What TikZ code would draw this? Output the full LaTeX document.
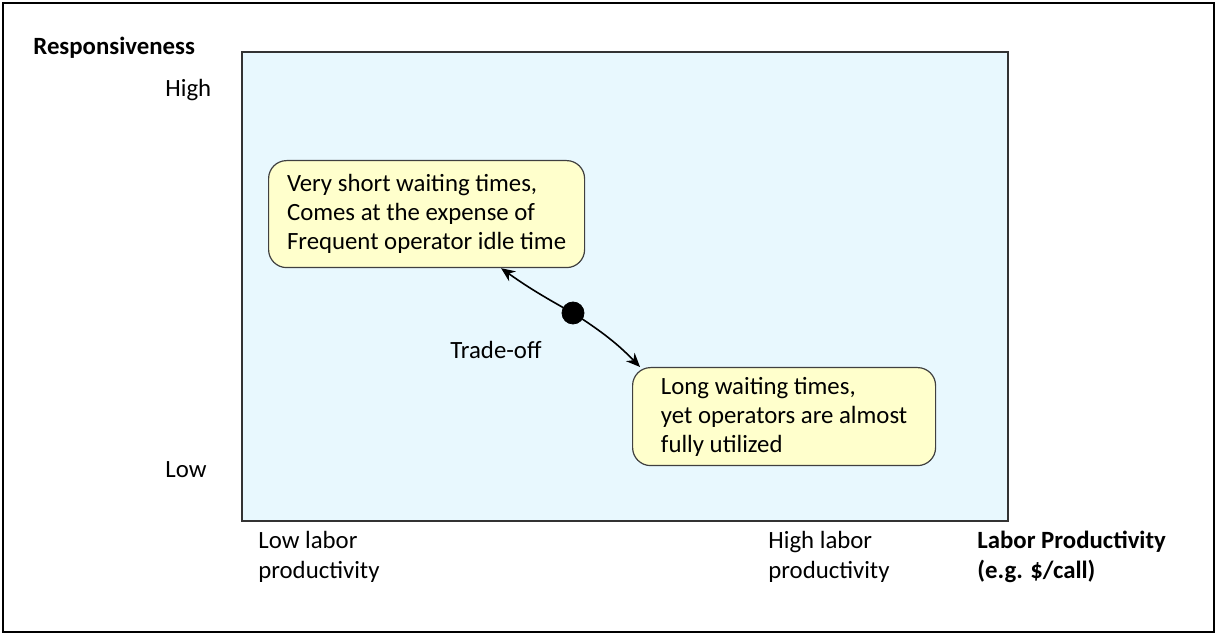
\documentclass[tikz,border=0pt]{standalone}
\usepackage{fontspec}
\setmainfont{Carlito}
\usetikzlibrary{arrows.meta,positioning}
\definecolor{plotbg}{HTML}{E8F8FE}
\definecolor{notebg}{HTML}{FFFFCC}
\tikzset{%
   dot/.style={circle, inner sep=0mm, outer sep=0mm, minimum size=11pt, draw=black, fill=black},
   note/.style={draw=black!75, fill=notebg, rounded corners=9pt, align=left, line width=0.6pt,
                inner xsep=2pt, font=\fontsize{12.4}{14.5}\selectfont},
   lbl/.style={inner sep=0pt, align=left, font=\fontsize{12.4}{15}\selectfont},
   hd/.style={lbl, font=\fontsize{12.4}{15}\selectfont\bfseries},
   tip/.style={-{Stealth[length=7pt,width=6pt]}, line width=0.8pt},
}

\begin{document}
\begin{tikzpicture}[x=0.5pt, y=-0.5pt]
         \useasboundingbox (0,0) rectangle (1217,635);
         \draw[line width=1pt] (3,3) rectangle (1214,632);
         \draw[fill=plotbg, draw=black!80, line width=1pt] (242,52) rectangle (1008,521);
         % vertical axis
         \node[hd, anchor=base west] (resp) at (33,55) {Responsiveness};
         \node[lbl, anchor=base west] (high) at (165,97) {High};
         \node[lbl, anchor=base west] (low) at (165,478) {Low};
         % horizontal axis
         \node[lbl, anchor=north west] (lowlab) at (258,531) {Low labor\\productivity};
         \node[lbl, anchor=north west] (highlab) at (768,531) {High labor\\productivity};
         \node[hd, anchor=north west] (prod) at (977,531) {Labor Productivity\\(e.g. \$/call)};
         % the two cases
         \node[note, minimum width=158pt, minimum height=53.5pt, anchor=north west] (short) at (268,160)
            {Very short waiting times,\\Comes at the expense of\\Frequent operator idle time};
         \node[note, minimum width=151.5pt, minimum height=49pt, anchor=north west] (long) at (632,367)
            {Long waiting times,\\yet operators are almost\\fully utilized};
         \node[dot] (mid) at (573,313) {};
         \node[lbl, anchor=base west] (trade) at (450,359) {Trade-off};
         \draw[tip] (mid) to[bend left=3] (short.-36);
         \draw[tip] (mid) to[bend left=6] (long.161);
      \end{tikzpicture}
\end{document}
